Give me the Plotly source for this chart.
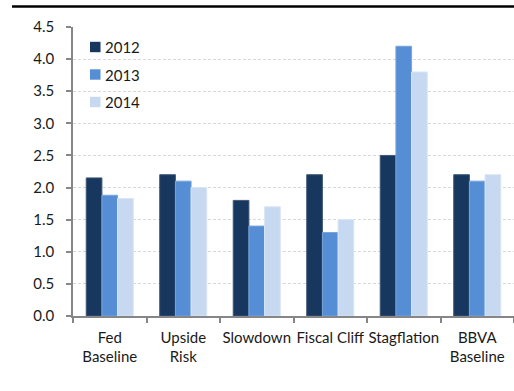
import plotly.graph_objects as go

categories = ["Fed<br>Baseline", "Upside<br>Risk", "Slowdown", "Fiscal Cliff", "Stagflation", "BBVA<br>Baseline"]
years = ["2012", "2013", "2014"]
values_2012 = [2.15, 2.2, 1.8, 2.2, 2.5, 2.2]
values_2013 = [1.88, 2.1, 1.4, 1.3, 4.2, 2.1]
values_2014 = [1.83, 2.0, 1.7, 1.5, 3.8, 2.2]
series = [values_2012, values_2013, values_2014]
colors = ["#17375E", "#558ED5", "#C6D9F1"]
edge_colors = ["#3f5878", "#78a5dc", "#d8e5f6"]

W, H = 514, 391
L, R, T, B = 73, 0, 27, 75
pw, ph = W - L - R, H - T - B

def px(x):
    return (x - L) / pw

def py(y):
    return (H - B - y) / ph

FONT = "Lato, Carlito, Calibri, sans-serif"
TXT = "#1a1a1a"

fig = go.Figure()
for yr, vals, c, ec in zip(years, series, colors, edge_colors):
    fig.add_trace(go.Bar(x=categories, y=vals, name=yr, marker=dict(color=c, line=dict(width=1, color=ec)),
                         showlegend=False))

shapes = []
annotations = []
# top rule
shapes.append(dict(type="line", xref="paper", yref="paper", x0=px(12), x1=px(514), y0=py(6.5), y1=py(6.5),
                   line=dict(color="black", width=2.5)))
# manual legend
legend_y = [47, 74.5, 102]
for yr, c, ly in zip(years, colors, legend_y):
    shapes.append(dict(type="rect", xref="paper", yref="paper", x0=px(90), x1=px(100.5),
                       y0=py(ly + 5.2), y1=py(ly - 5.2), fillcolor=c, line=dict(width=0)))
    annotations.append(dict(text=yr, xref="paper", yref="paper", x=px(103), y=py(ly), xanchor="left",
                            yanchor="middle", showarrow=False, font=dict(family=FONT, size=15, color=TXT)))

fig.update_layout(
    width=W, height=H,
    margin=dict(l=L, r=R, t=T, b=B, pad=0),
    paper_bgcolor="white", plot_bgcolor="white",
    barmode="group", bargap=0.36, bargroupgap=0,
    font=dict(family=FONT, size=15, color=TXT),
    shapes=shapes, annotations=annotations,
    xaxis=dict(showline=True, linecolor="#868686", linewidth=1.5, ticks="outside", tickson="boundaries",
               ticklen=5, tickcolor="#868686", tickwidth=1.5, showgrid=False, tickangle=0,
               tickfont=dict(family=FONT, size=15, color=TXT), ticklabelstandoff=7),
    yaxis=dict(range=[0, 4.5], dtick=0.5, tickformat=".1f", showline=True, linecolor="#868686",
               linewidth=1.5, ticks="outside", ticklen=5, tickcolor="#868686", tickwidth=1.5,
               showgrid=True, gridcolor="#d9d9d9", gridwidth=1, griddash="3px,2px",
               zeroline=False, tickfont=dict(family=FONT, size=15, color=TXT), ticklabelstandoff=9),
)
fig.write_html("out.html")
